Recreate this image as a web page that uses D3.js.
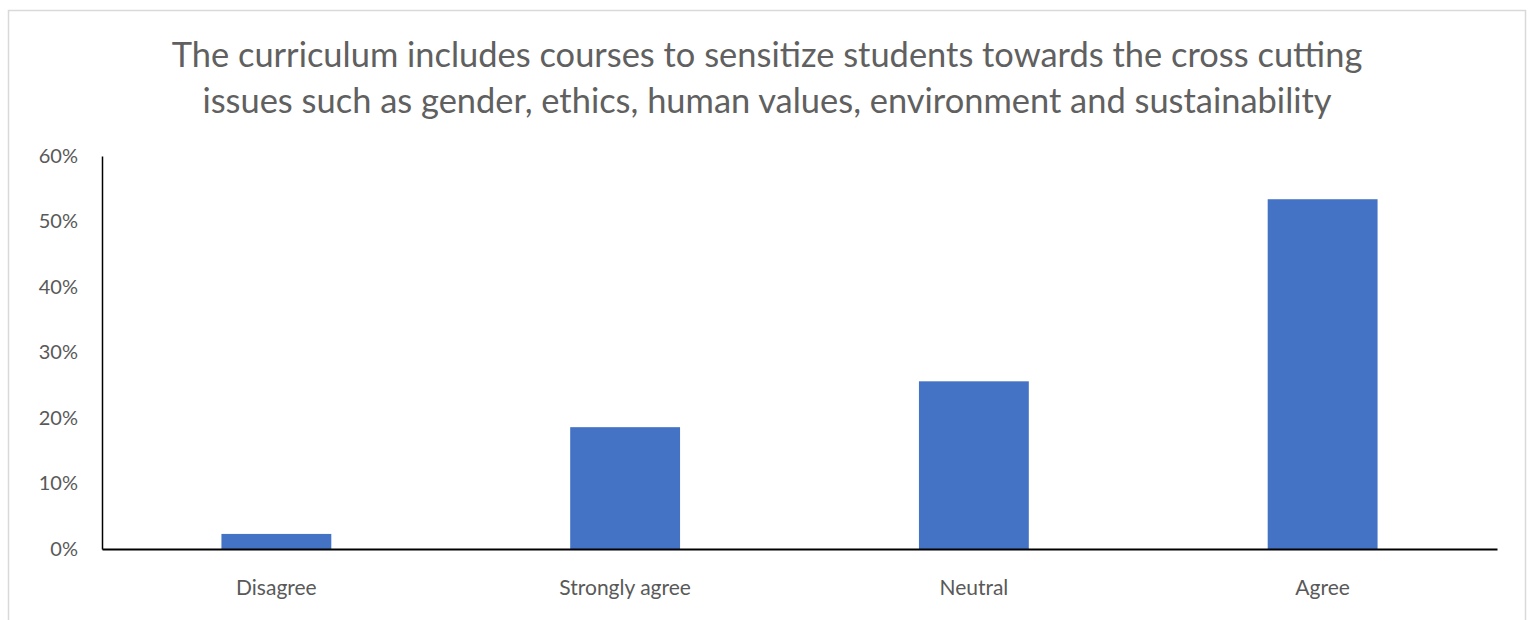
<!DOCTYPE html>
<html>
<head>
<meta charset="utf-8">
<script src="https://cdn.jsdelivr.net/npm/d3@7"></script>
<style>
  html, body { margin: 0; padding: 0; background: #fff; }
  svg { display: block; }
</style>
</head>
<body>
<div id="chart"></div>
<script>
// data
const categories = ["Disagree", "Strongly agree", "Neutral", "Agree"];
const shares = [0.023, 0.186, 0.256, 0.534];
const yTicks = [0, 0.1, 0.2, 0.3, 0.4, 0.5, 0.6];
const titleLines = [
  "The curriculum includes courses to sensitize students towards the cross cutting",
  "issues such as gender, ethics, human values, environment and sustainability"
];

const W = 1528, H = 620;
const plot = {left: 102, right: 1497, top: 156, bottom: 549};
const fontFamily = "Lato, 'Open Sans', sans-serif";
const textColor = "#595959";

const svg = d3.select("#chart").append("svg")
  .attr("width", W)
  .attr("height", H)
  .attr("viewBox", "0 0 " + W + " " + H);

// chart border
svg.append("rect")
  .attr("x", 8.5).attr("y", 10.5)
  .attr("width", 1517).attr("height", 640)
  .attr("fill", "#fff")
  .attr("stroke", "#d9d9d9")
  .attr("stroke-width", 1.5);

// title, fitted so that line one spans the same width as in the picture
const title = svg.append("g")
  .style("font-family", fontFamily)
  .attr("fill", "#606060");
const titleText = title.selectAll("text")
  .data(titleLines)
  .join("text")
  .attr("x", 767)
  .attr("y", (d, i) => 67 + i * 46)
  .attr("text-anchor", "middle")
  .style("font-size", "30px")
  .text(d => d);
const w0 = titleText.node().getComputedTextLength();
titleText.style("font-size", (30 * 1191 / w0) + "px");

const x = d3.scaleBand()
  .domain(categories)
  .range([plot.left, plot.right])
  .paddingInner(0.685)
  .paddingOuter(0.3425);

const y = d3.scaleLinear()
  .domain([0, 0.6])
  .range([plot.bottom, plot.top]);

// bars
svg.append("g")
  .selectAll("rect")
  .data(categories)
  .join("rect")
  .attr("x", d => x(d))
  .attr("y", (d, i) => y(shares[i]))
  .attr("width", x.bandwidth())
  .attr("height", (d, i) => y(0) - y(shares[i]))
  .attr("fill", "#4472c4");

// y axis
const yAxis = d3.axisLeft(y)
  .tickValues(yTicks)
  .tickFormat(d3.format(".0%"))
  .tickSize(0)
  .tickPadding(24);
const gy = svg.append("g")
  .attr("transform", "translate(" + plot.left + ",0)")
  .call(yAxis);
gy.select(".domain").attr("stroke", "#000").attr("stroke-width", 1.5);
gy.selectAll("text")
  .style("font-family", fontFamily)
  .style("font-size", "20px")
  .attr("fill", textColor);

// x axis
const xAxis = d3.axisBottom(x).tickSize(0).tickPadding(31);
const gx = svg.append("g")
  .attr("transform", "translate(0," + plot.bottom + ")")
  .call(xAxis);
gx.select(".domain").attr("stroke", "#000").attr("stroke-width", 2);
gx.selectAll("text")
  .style("font-family", fontFamily)
  .style("font-size", "21px")
  .attr("fill", textColor);
</script>
</body>
</html>
